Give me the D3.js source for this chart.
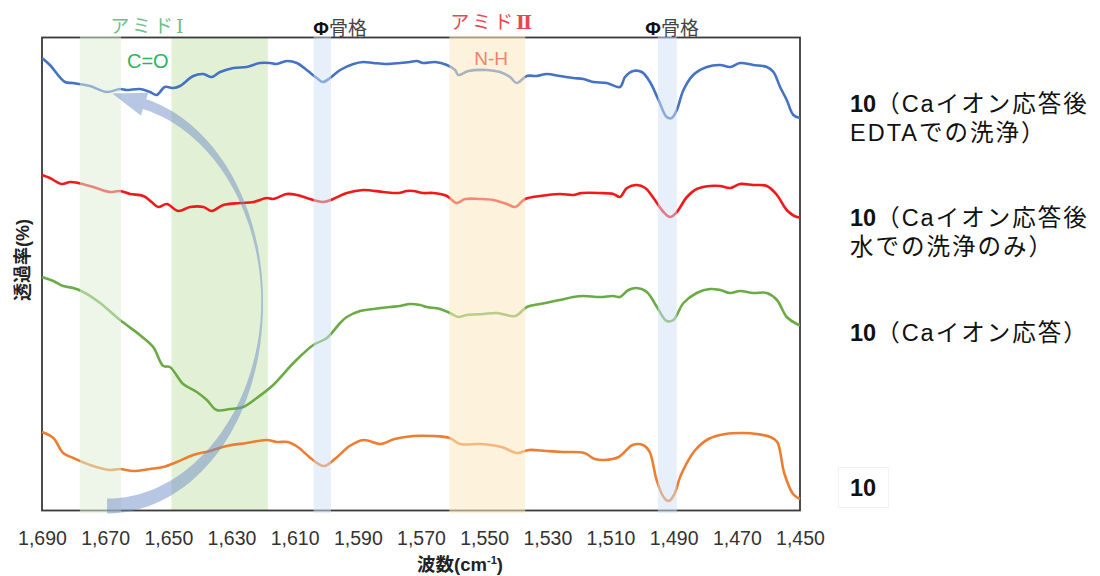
<!DOCTYPE html>
<html>
<head>
<meta charset="utf-8">
<script src="https://cdn.jsdelivr.net/npm/d3@7"></script>
<style>
  html, body { margin: 0; padding: 0; background: #fff; }
  svg { display: block; font-family: "Liberation Sans", Arial, "Noto Sans CJK JP", sans-serif; }
</style>
</head>
<body>
<svg id="chart" width="1100" height="576"></svg>
<script>
// IR spectra, amide region: wavenumber (cm-1) vs. offset transmittance (a.u.)
const waveTicks = [1690, 1670, 1650, 1630, 1610, 1590, 1570, 1550, 1530, 1510, 1490, 1470, 1450];

// 10 after Ca response, washed with EDTA
const specEDTA = [
  [1690,452],[1687.5,445],[1682.7,428],[1680.2,427],[1674.8,424],[1669.5,418],[1665.3,421],[1663.2,420],
  [1659,421],[1655.8,418],[1653.7,415],[1651.1,423],[1648.4,422],[1646.3,424],[1642.1,434],[1638.9,436],
  [1636.3,433],[1633.6,438],[1629.4,442],[1625.2,443],[1621,447],[1617.8,447],[1615.7,446],[1612.5,449],
  [1609.3,447],[1606.2,440],[1603,432],[1601.1,428],[1598.8,432],[1595.6,440],[1591.4,446],[1588.3,448],
  [1585.1,447],[1580.8,446],[1576.6,447],[1573.5,448],[1571.3,449],[1569.3,447],[1565.5,448],[1561.8,445],
  [1559.2,440],[1558.2,435],[1555,439],[1549.2,440],[1545,438],[1541.8,433],[1539.7,427],[1536.5,434],
  [1533.3,434],[1530.2,436],[1526,434],[1521.8,432],[1518.6,431],[1515.4,428],[1511.2,427],[1507,423],
  [1505.4,433],[1502.8,439],[1500.1,438],[1497.5,428],[1494.8,410],[1492.2,393],[1490.6,392],[1489,400],
  [1486.9,420],[1483.8,435],[1479.5,443],[1475.3,445],[1472.1,443],[1469,447],[1464.8,445],[1460.5,443],
  [1458.4,438],[1456.3,423],[1454.2,410],[1452.1,395],[1450,392]
];

// 10 after Ca response, washed with water only
const specWater = [
  [1690,335],[1687.5,332],[1683.8,326],[1681.1,328],[1678.5,327],[1673.8,323],[1668.5,318],[1665.3,319],
  [1662.1,316],[1657.9,314],[1655.3,308],[1653.2,303],[1650.5,306],[1646.8,299],[1643.1,303],[1638.9,303],
  [1636.3,299],[1632.6,305],[1627.3,307],[1623.1,308],[1618.8,312],[1616.8,311],[1612.5,316],[1609.3,315],
  [1606.2,312],[1600.9,308],[1597.8,311],[1593.5,317],[1588.3,320],[1581.9,318],[1577.2,317],[1574.5,319],
  [1572.4,319],[1569.3,317],[1566.1,317],[1561.8,314],[1558.7,307],[1556,311],[1551.3,311],[1547.1,310],
  [1542.8,306],[1540.2,303],[1537,311],[1532.3,314],[1526,316],[1521.8,315],[1519.1,317],[1513.3,317],
  [1509.1,316],[1507,313],[1504.8,322],[1501.7,325],[1499,322],[1496.4,312],[1493.2,298],[1491.1,293],
  [1489,298],[1485.8,313],[1482.7,321],[1478.5,324],[1475.3,324],[1472.1,322],[1469,326],[1464.8,325],
  [1460.5,324],[1457.3,315],[1454.2,300],[1451,293],[1450,293]
];

// 10 after Ca response
const specCa = [
  [1690,233],[1686.4,229],[1683.3,224],[1680.1,222],[1676.9,218],[1671.6,207],[1665.3,190],[1659,175],
  [1654.8,163],[1651.6,144],[1649.5,143],[1645.3,126],[1641,118],[1637.8,110],[1634.7,100],[1630.5,101],
  [1626.3,103],[1622,112],[1616.8,125],[1610.4,147],[1604.1,165],[1599.8,172],[1595.6,187],[1593.5,193],
  [1589.3,199],[1585.1,201],[1579.8,203],[1576.6,204],[1573.5,206],[1570.3,205],[1568.2,203],[1564,201],
  [1560.8,197],[1558.2,193],[1555.5,195],[1550.3,196],[1546,197],[1540.2,194],[1536.5,203],[1532.3,206],
  [1526,210],[1521.8,213],[1518.6,214],[1513.3,213],[1509.1,214],[1507,213],[1504.3,220],[1501.7,222],
  [1498.5,218],[1495.3,203],[1492.2,189],[1490.1,190],[1486.9,207],[1482.7,217],[1478.5,221],[1475.3,220],
  [1472.1,217],[1469,219],[1464.8,217],[1460.5,217],[1457.3,210],[1454.2,193],[1451,186],[1450,185]
];

// 10 as prepared
const specPlain = [
  [1690,78],[1686.4,72],[1683.3,57],[1680.1,52],[1674.8,45],[1668.5,40],[1665.3,41],[1661.1,39],
  [1655.8,41],[1651.6,43],[1647.3,48],[1642.1,55],[1636.8,59],[1631.5,64],[1625.2,67],[1618.8,70],
  [1615.7,68],[1612.2,68],[1609,63],[1604.6,51],[1600.8,44],[1596.9,52],[1592.6,64],[1588.2,70],
  [1582.7,66],[1578.4,71],[1572.4,74],[1566.4,74],[1560.9,72],[1557.6,66],[1551.1,66],[1544.5,63],
  [1539.6,57],[1535.8,60],[1530.3,59],[1524.9,58],[1518.3,57],[1515,51],[1511.8,50],[1507.4,53],
  [1503,65],[1499.7,65],[1497.6,58],[1495.4,30],[1493.2,13],[1491.6,9],[1489.9,15],[1487.7,35],
  [1483.4,59],[1479,71],[1473.6,76],[1468.1,77],[1463.7,76],[1459.4,73],[1457.2,68],[1455,37],
  [1452.2,16],[1450,11]
];

const seriesNames = ["EDTA", "water", "Ca", "plain"];
const seriesColors = ["#4472c4", "#f01818", "#6aab45", "#ed7d31"];
const seriesData = [specEDTA, specWater, specCa, specPlain];

// assignment bands [from, to] in cm-1
const bandAmide1Weak = [1678, 1665];
const bandAmide1 = [1649, 1618.5];
const bandPhe1 = [1604, 1598.5];
const bandAmide2 = [1561, 1537];
const bandPhe2 = [1495, 1489];

const legendLines = [
  { y: 112, parts: [["10", true], ["（Caイオン応答後", false]] },
  { y: 141, parts: [["EDTAでの洗浄）", false]] },
  { y: 226, parts: [["10", true], ["（Caイオン応答後", false]] },
  { y: 255, parts: [["水での洗浄のみ）", false]] },
  { y: 341, parts: [["10", true], ["（Caイオン応答）", false]] },
  { y: 496, parts: [["10", true]] }
];

const svg = d3.select("#chart");
const L = 42, R = 800, T = 37, B = 510;

const x = d3.scaleLinear().domain([1690, 1450]).range([L, R]);
const y = d3.scaleLinear().domain([0, 473]).range([B, T]);

// main amide I band sits behind the spectra
svg.append("rect")
  .attr("x", x(bandAmide1[0])).attr("width", x(bandAmide1[1]) - x(bandAmide1[0]))
  .attr("y", T).attr("height", B - T + 1)
  .attr("fill", "#e2f0d6");

// plot frame
svg.append("rect")
  .attr("x", L).attr("y", T + 0.5).attr("width", R - L).attr("height", B - T)
  .attr("fill", "none").attr("stroke", "#3a3a3a").attr("stroke-width", 1.8);

// spectra
const line = d3.line()
  .x(d => x(d[0])).y(d => y(d[1]))
  .curve(d3.curveCatmullRom.alpha(0.5));

svg.append("g").selectAll("path")
  .data(seriesData)
  .join("path")
  .attr("d", line)
  .attr("fill", "none")
  .attr("stroke", (d, i) => seriesColors[i])
  .attr("stroke-width", 2.6)
  .attr("stroke-linejoin", "round");

// translucent highlight bands drawn over the spectra
const overlays = [
  [bandAmide1Weak, "rgb(222,238,214)", 0.52],
  [bandPhe1, "rgb(208,226,246)", 0.5],
  [bandAmide2, "rgb(252,232,192)", 0.55],
  [bandPhe2, "rgb(208,226,246)", 0.5]
];
svg.append("g").selectAll("rect")
  .data(overlays)
  .join("rect")
  .attr("x", d => x(d[0][0]))
  .attr("width", d => x(d[0][1]) - x(d[0][0]))
  .attr("y", T - 1).attr("height", B - T + 4)
  .attr("fill", d => d[1]).attr("opacity", d => d[2]);

// curved arrow: sweeping from the plain spectrum back up to the EDTA-washed one
(function drawArrow() {
  const cx = x(1669.4), cy = y(208);
  const rx = x(1669.4 - 49.1) - cx, ry = 204;
  const deg = Math.PI / 180;
  const t0 = 90 * deg, t1 = -76 * deg;
  const n = 140;
  const left = [], right = [];
  const pt = t => [cx + rx * Math.cos(t), cy + ry * Math.sin(t)];
  const nrm = t => {
    const dx = -rx * Math.sin(t), dy = ry * Math.cos(t);
    const len = Math.hypot(dx, dy);
    return [-dy / len, dx / len, dx / len, dy / len];
  };
  for (let i = 0; i <= n; i++) {
    const t = t0 + (t1 - t0) * i / n;
    const s = Math.abs(Math.sin(t));
    const w = t > 0 ? 1.8 + 13 * Math.pow(s, 1.6) : 1.8 + 9 * Math.pow(s, 1.8);
    const p = pt(t), k = nrm(t);
    left.push([p[0] + k[0] * w / 2, p[1] + k[1] * w / 2]);
    right.push([p[0] - k[0] * w / 2, p[1] - k[1] * w / 2]);
  }
  const pe = pt(t1), ke = nrm(t1);
  const dir = [-ke[2], -ke[3]];
  const HW = 12, HL = 34;
  const head = [
    [pe[0] + ke[0] * HW, pe[1] + ke[1] * HW],
    [pe[0] + dir[0] * HL, pe[1] + dir[1] * HL],
    [pe[0] - ke[0] * HW, pe[1] - ke[1] * HW]
  ];
  const poly = left.concat(head, right.reverse());
  svg.append("path")
    .attr("d", "M" + poly.map(p => p[0].toFixed(1) + "," + p[1].toFixed(1)).join("L") + "Z")
    .attr("fill", "#6f8ec6").attr("opacity", 0.5);
})();

// x axis
const xAxis = d3.axisBottom(x)
  .tickValues(waveTicks)
  .tickFormat(d3.format(","))
  .tickSize(0).tickPadding(21);
const gx = svg.append("g").attr("transform", `translate(0,${B})`).call(xAxis);
gx.select(".domain").remove();
gx.selectAll("text")
  .attr("font-size", 19.5)
  .attr("fill", "#333")
  .style("font-family", '"Liberation Sans", Arial, sans-serif');

// axis titles
const xt = svg.append("text")
  .attr("x", 460).attr("y", 571).attr("text-anchor", "middle")
  .attr("font-size", 18.5).attr("font-weight", "bold").attr("fill", "#222");
xt.append("tspan").text("波数(cm");
xt.append("tspan").attr("font-size", 11).attr("dy", -7).text("-1");
xt.append("tspan").attr("dy", 7).text(")");

svg.append("text")
  .attr("transform", "translate(29,260) rotate(-90)")
  .attr("text-anchor", "middle")
  .attr("font-size", 18).attr("font-weight", "bold").attr("fill", "#222")
  .text("透過率(%)");

// band labels above the frame (kana + Roman numeral)
const amideLabels = [
  { wn: 1656.8, y: 33, kana: "アミド", num: "Ⅰ", color: "#6cc08a", bold: false },
  { wn: 1547.8, y: 29, kana: "アミド", num: "Ⅱ", color: "#e5484d", bold: true }
];
const am = svg.append("g").selectAll("text")
  .data(amideLabels)
  .join("text")
  .attr("x", d => x(d.wn)).attr("y", d => d.y)
  .attr("text-anchor", "middle")
  .attr("font-size", 19)
  .attr("fill", d => d.color);
am.append("tspan").attr("letter-spacing", 3).text(d => d.kana);
am.append("tspan")
  .style("font-family", '"DejaVu Serif", "Liberation Serif", serif')
  .attr("font-weight", d => d.bold ? "bold" : "normal")
  .text(d => d.num);

const groupLabels = [
  { wn: 1656.5, y: 68, text: "C=O", color: "#2fb35c", size: 20 },
  { wn: 1547.8, y: 65, text: "N-H", color: "#f5806e", size: 19 }
];
svg.append("g").selectAll("text")
  .data(groupLabels)
  .join("text")
  .attr("x", d => x(d.wn)).attr("y", d => d.y)
  .attr("text-anchor", "middle")
  .attr("font-size", d => d.size)
  .attr("fill", d => d.color)
  .text(d => d.text);

const pheLabels = [1595.6, 1490.5];
const ph = svg.append("g").selectAll("text")
  .data(pheLabels)
  .join("text")
  .attr("x", d => x(d)).attr("y", 35)
  .attr("text-anchor", "middle")
  .attr("font-size", 19);
ph.append("tspan").attr("font-weight", "bold").attr("fill", "#111").text("Φ");
ph.append("tspan").attr("fill", "#444").text("骨格");

// series labels on the right
svg.append("rect")
  .attr("x", 838.5).attr("y", 467.5).attr("width", 50).attr("height", 40)
  .attr("fill", "#fff").attr("stroke", "#f3f3f3");

const lg = svg.append("g").selectAll("text")
  .data(legendLines)
  .join("text")
  .attr("x", 850).attr("y", d => d.y)
  .attr("font-size", 23.5)
  .attr("fill", "#111");
lg.each(function (d) {
  const t = d3.select(this);
  d.parts.forEach(p => {
    t.append("tspan")
      .attr("font-weight", p[1] ? "bold" : "normal")
      .attr("letter-spacing", p[1] ? 0 : 2)
      .text(p[0]);
  });
});
</script>
</body>
</html>
